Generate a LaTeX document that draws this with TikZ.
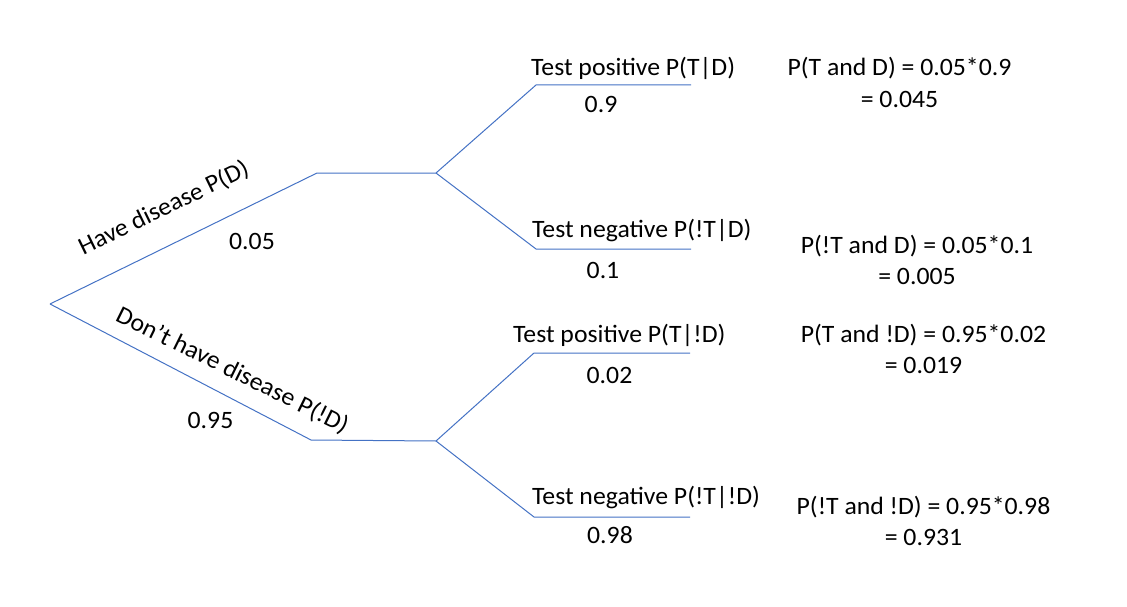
\documentclass[tikz,border=0pt]{standalone}
\usepackage{fontspec}
\setmainfont[FakeStretch=1.03]{Carlito}
\definecolor{lineblue}{HTML}{4472C4}
\begin{document}
\begin{tikzpicture}[x=1pt,y=-1pt,
  branch/.style={draw=lineblue, line width=1pt},
  lbl/.style={font=\fontsize{25}{31.5}\selectfont, inner sep=0pt, text=black},
  res/.style={lbl, align=center}]
\useasboundingbox (0,0) rectangle (1127,607);
% tree points
\coordinate (root) at (50,304);
\coordinate (d1) at (317,173);
\coordinate (d2) at (436,173);
\coordinate (n1) at (311,440);
\coordinate (n2) at (436,441);
\coordinate (tp1) at (536,85);
\coordinate (tp2) at (691,85);
\coordinate (tn1) at (536,249);
\coordinate (tn2) at (691,249);
\coordinate (up1) at (534,353);
\coordinate (up2) at (690,353);
\coordinate (un1) at (534,517);
\coordinate (un2) at (690,517);
% branches
\draw[branch] (root) -- (d1) -- (d2);
\draw[branch] (root) -- (n1) -- (n2);
\draw[branch] (d2) -- (tp1) -- (tp2);
\draw[branch] (d2) -- (tn1) -- (tn2);
\draw[branch] (n2) -- (up1) -- (up2);
\draw[branch] (n2) -- (un1) -- (un2);
% first level labels
\node[lbl, anchor=base, rotate=26] (hd) at (167,215) {Have disease P(D)};
\node[lbl, anchor=base] (p005) at (252,249) {0.05};
\node[lbl, anchor=base, rotate=-26.3] (nd) at (229,377) {Don’t have disease P(!D)};
\node[lbl, anchor=base] (p095) at (210.5,428) {0.95};
% second level labels
\node[lbl, anchor=base west] (tpd) at (531,76) {Test positive P(T|D)};
\node[lbl, anchor=base] (p09) at (601,113) {0.9};
\node[lbl, anchor=base west] (tnd) at (532,237) {Test negative P(!T|D)};
\node[lbl, anchor=base] (p01) at (603,278) {0.1};
\node[lbl, anchor=base west] (tpn) at (513,342) {Test positive P(T|!D)};
\node[lbl, anchor=base] (p002) at (609.5,383) {0.02};
\node[lbl, anchor=base west] (tnn) at (532,504) {Test negative P(!T|!D)};
\node[lbl, anchor=base] (p098) at (610,543) {0.98};
% results
\node[res] (r1) at (899.5,85.45) {\strut P(T and D) = 0.05*0.9\\\strut = 0.045};
\node[res] (r2) at (917,262.45) {\strut P(!T and D) = 0.05*0.1\\\strut = 0.005};
\node[res] (r3) at (923.5,351.45) {\strut P(T and !D) = 0.95*0.02\\\strut = 0.019};
\node[res] (r4) at (923.5,523.45) {\strut P(!T and !D) = 0.95*0.98\\\strut = 0.931};
\end{tikzpicture}
\end{document}
